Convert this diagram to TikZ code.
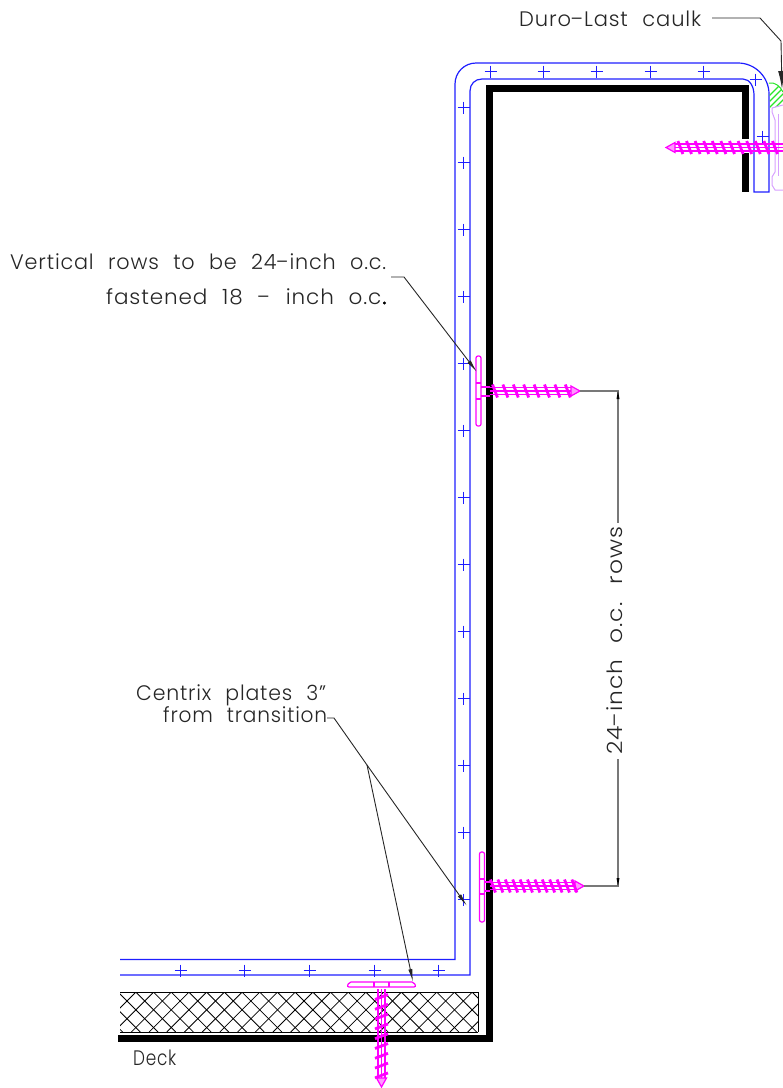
\documentclass[tikz,border=0pt]{standalone}
\usepackage{fontspec}
\usepackage{graphicx}
\usetikzlibrary{arrows.meta}
\setmainfont[LetterSpace=4,WordSpace=2.2]{Poppins Light}
\definecolor{cadblue}{RGB}{30,30,255}
\definecolor{cadmag}{RGB}{255,0,255}
\definecolor{cadgreen}{RGB}{40,230,40}
\definecolor{cadviolet}{RGB}{215,160,255}
\definecolor{cadgray}{RGB}{120,120,120}
\newcommand\hy{\resizebox{13pt}{\height}{-}}
\newcommand\fitw[2]{\resizebox{#1pt}{\height}{#2}}
\tikzset{
 bluel/.style={draw=cadblue,line width=1.2pt},
 crossmark/.style={draw=cadblue,line width=1.2pt},
 magl/.style={draw=cadmag,line width=1.2pt},
 wall/.style={draw=black,line width=7pt,line join=miter},
 leader/.style={draw=black!85,line width=0.9pt},
 dimline/.style={draw=cadgray,line width=1.2pt},
 label/.style={inner sep=0pt,anchor=base west,font=\fontsize{21}{25}\selectfont,text=black!85},
 leadarrow/.style={-{Latex[length=13pt,width=4pt]}},
 bigarrow/.style={-{Latex[length=18pt,width=7pt]}},
 pics/fastener/.style n args={4}{code={
   \draw[magl] (0,-3.5)--(#1-8,-3.5) (0,3.5)--(#1-8,3.5) (0,0)--(#1,0);
   \draw[magl,fill=cadmag!40] (#1-9,-5)--(#1,0)--(#1-9,5)--cycle;
   \foreach \k in {1,...,#4}{
     \pgfmathsetmacro\px{#3+(\k-1)*#2}
     \draw[draw=cadmag,line width=2.8pt] (\px-2.5,-6.5)--(\px+2.5,6.5);
   }
 }}
}
\begin{document}
\begin{tikzpicture}[x=1pt,y=-1pt]
\useasboundingbox (0,0) rectangle (783,1088);
\clip (0,0) rectangle (783,1088);
% walls
\draw[wall] (118,1038.5)--(489.5,1038.5)--(489.5,88.5)--(745.5,88.5)--(745.5,139);
\draw[wall] (745.5,153)--(745.5,192);
% insulation
\begin{scope}
\clip (120,992) rectangle (478,1032);
\foreach \k in {0,...,28}{
  \draw[black,line width=0.8pt] ({1128+17.7*(\k-2)-1032},1032)--({1128+17.7*(\k-2)-992},992);
  \draw[black,line width=0.8pt] ({-874+17.7*(\k-4)+992},992)--({-874+17.7*(\k-4)+1032},1032);
}
\end{scope}
\draw[black,line width=1pt] (478,1032)--(478,992)--(120,992);
\draw[black,line width=0.8pt] (120,1032)--(478,1032);
% membrane
\draw[bluel] (120,959.5)--(455,959.5)--(455,84) .. controls (455,72.4) and (464.4,63) .. (476,63)--(738,63) .. controls (755,63) and (769,77) .. (769,94)--(769,192)--(754,192)--(754,95) .. controls (754,87) and (750,79) .. (743,79)--(482,79) .. controls (475,79) and (470,84) .. (470,91)--(470,975)--(120,975);
% crosses
\foreach \cx/\cy in {490.5/71.5,543.5/71.5,596.5/71.5,650.5/71.5,703.5/71.5,755.5/79.5,762.5/136.5,463.5/107.5,463.5/162.5,463.5/229.5,463.5/296.5,463.5/363.5,463.5/430.5,463.5/497.5,463.5/564.5,463.5/631.5,463.5/698.5,463.5/765.5,463.5/832.5,463.5/899.5,180.5/970.5,244.5/970.5,309.5/970.5,374.5/970.5,438.5/970.5}{
  \draw[crossmark] (\cx-6,\cy)--(\cx+6,\cy) (\cx,\cy-6)--(\cx,\cy+6);
}
% caulk
\begin{scope}
\clip (769,83) .. controls (775,82) and (780,86) .. (783,92)--(783,105)--(772,108)--(770,112)--(769.5,90)--cycle;
\foreach \k in {0,...,8}{
  \draw[cadgreen,line width=1.2pt] (765,{100+\k*6})--(790,{75+\k*6});
}
\end{scope}
\draw[cadgreen,line width=1pt] (769,83) .. controls (775,82) and (780,86) .. (783,92);
% profile
\draw[cadviolet,line width=1pt] (783,105)--(772,108)--(772,112)--(775,120)--(775,172)--(772,177)--(772,185)--(775,190)--(783,190);
\draw[cadviolet,line width=0.8pt] (778,114)--(778,176);
% fasteners
\coordinate (scr1) at (490,391);
\coordinate (scr2) at (490,886);
\coordinate (scr3) at (783,147.5);
\coordinate (scr4) at (381.5,989);
\path (scr1) pic {fastener={90}{10.4}{5}{8}};
\path (scr2) pic {fastener={94}{7.4}{3}{12}};
\path (scr3) pic[rotate=180] {fastener={117}{8.6}{8}{12}};
\path (scr4) pic[rotate=-90] {fastener={98}{9.8}{8}{9}};
% plates
\draw[magl,rounded corners=2pt] (476,356) rectangle (481,426);
\draw[magl] (476,383)--(481,383) (476,399)--(481,399) (481,387)--(490,387) (481,396)--(490,396);
\draw[magl,rounded corners=2pt] (479.5,852) rectangle (484.5,922);
\draw[magl] (479.5,879)--(484.5,879) (479.5,894)--(484.5,894) (484.5,882)--(490,882) (484.5,891)--(490,891);
\draw[magl,rounded corners=2pt] (347,987)--(349,982)--(414,982)--(416,987)--cycle;
\draw[magl] (374,982)--(374,987) (389,982)--(389,987);
% labels
\node[label] (duro) at (519,26) {\fitw{182}{Duro\hy Last caulk}};
\node[label] (vert) at (10,269) {\fitw{376}{Vertical rows to be 24\hy inch o.c.}};
\node[label] (fast) at (106,304) {\fitw{280}{fastened 18 \hy\ inch o.c.}};
\node[label] (cent) at (136,700) {\fitw{190}{Centrix plates 3”}};
\node[label] (from) at (163,722) {\fitw{164}{from transition}};
\node[label] (deck) at (133,1065) {\fitw{43}{Deck}};
\node[label,rotate=90] (dimt) at (622,755) {\fitw{228}{24\hy inch o.c. rows}};
\fill[black] (384.5,303) circle (1.6);
% leaders
\coordinate (d1) at (712,18); \coordinate (d2) at (760,18); \coordinate (d3) at (781,41); \coordinate (d4) at (782,89);
\draw[leader] (d1)--(d2)--(d3);
\draw[leader,bigarrow] (d3)--(d4);
\coordinate (v1) at (391,277); \coordinate (v2) at (404,277); \coordinate (v3) at (477,372);
\draw[leader,leadarrow] (v1)--(v2)--(v3);
\coordinate (c1) at (327,718); \coordinate (c2) at (334,718); \coordinate (c3) at (367,765); \coordinate (c4) at (467,906); \coordinate (c5) at (413,982);
\draw[leader,leadarrow] (c1)--(c2)--(c3)--(c4);
\draw[leader,leadarrow] (c3)--(c5);
% dimension
\coordinate (t1) at (580,391); \coordinate (t2) at (618,391); \coordinate (t3) at (618,523);
\coordinate (b1) at (584,886); \coordinate (b2) at (618,886); \coordinate (b3) at (618,759);
\draw[dimline] (t1)--(t2)--(t3);
\draw[dimline] (b1)--(b2)--(b3);
\fill[black] (618,391)--(616.5,399)--(619.5,399)--cycle;
\fill[black] (618,886)--(616.5,878)--(619.5,878)--cycle;
\end{tikzpicture}
\end{document}
